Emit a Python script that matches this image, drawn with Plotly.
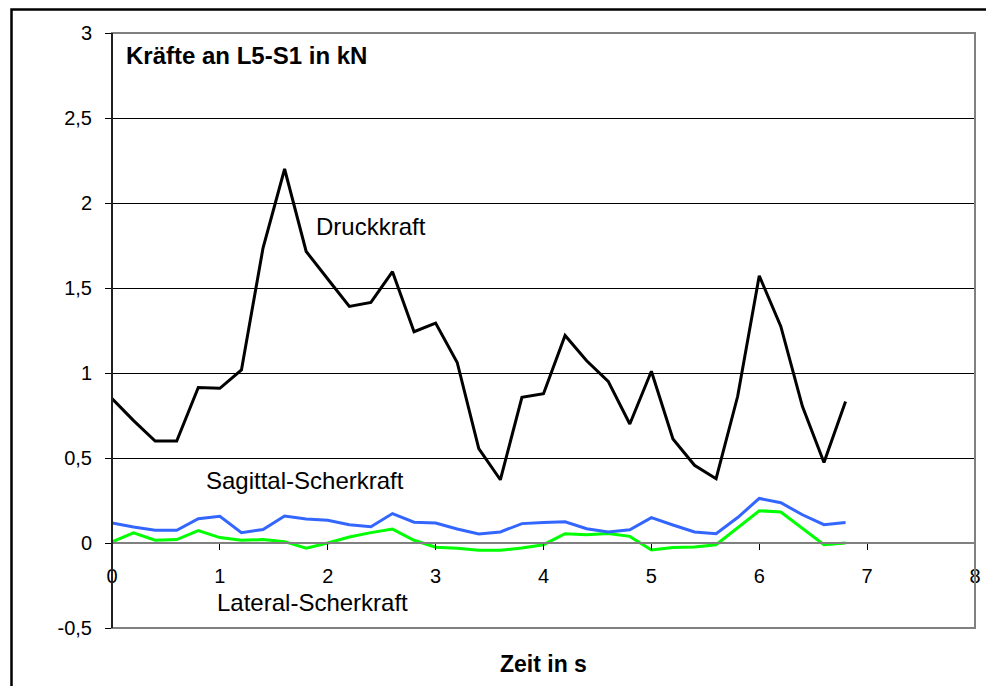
import plotly.graph_objects as go

zeit = [round(i * 0.2, 1) for i in range(35)]

druckkraft = [0.85, 0.72, 0.60, 0.60, 0.915, 0.91, 1.018, 1.735, 2.20, 1.715,
              1.553, 1.392, 1.415, 1.596, 1.243, 1.294, 1.062, 0.555, 0.372, 0.857,
              0.878, 1.221, 1.072, 0.951, 0.70, 1.01, 0.612, 0.457, 0.378, 0.863,
              1.572, 1.274, 0.804, 0.474, 0.833]

sagittal = [0.118, 0.094, 0.075, 0.075, 0.143, 0.157, 0.061, 0.079, 0.159, 0.141,
            0.134, 0.108, 0.096, 0.173, 0.122, 0.118, 0.082, 0.053, 0.065, 0.114,
            0.12, 0.125, 0.084, 0.065, 0.078, 0.149, 0.106, 0.065, 0.055, 0.15,
            0.262, 0.237, 0.166, 0.108, 0.12]

lateral = [0.006, 0.06, 0.016, 0.02, 0.073, 0.032, 0.016, 0.02, 0.008, -0.031,
           0.0, 0.035, 0.061, 0.082, 0.016, -0.025, -0.031, -0.043, -0.043, -0.029,
           -0.01, 0.055, 0.049, 0.056, 0.039, -0.041, -0.026, -0.024, -0.01, 0.092,
           0.19, 0.182, 0.086, -0.01, 0.0]

y_ticks = [-0.5, 0, 0.5, 1, 1.5, 2, 2.5, 3]
y_tick_labels = ["-0,5", "0", "0,5", "1", "1,5", "2", "2,5", "3"]
x_ticks = [0, 1, 2, 3, 4, 5, 6, 7, 8]

FONT = "Liberation Sans, Arial, sans-serif"

fig = go.Figure()
fig.add_trace(go.Scatter(x=zeit, y=lateral, mode="lines", name="Lateral-Scherkraft",
                         line=dict(color="#00FF00", width=3)))
fig.add_trace(go.Scatter(x=zeit, y=sagittal, mode="lines", name="Sagittal-Scherkraft",
                         line=dict(color="#3366FF", width=3)))
fig.add_trace(go.Scatter(x=zeit, y=druckkraft, mode="lines", name="Druckkraft",
                         line=dict(color="#000000", width=3)))

# page body has an 8px margin; figure is sized so the plot lands where the reference has it
OFF = 8
L, R, T, B = 104, 19, 25, 58
W, H = 986, 678
pw, ph = W - L - R, H - T - B

def px_x(px):
    return (px - OFF - L) / pw

def px_y(py):
    return 1 - (py - OFF - T) / ph

fig.update_layout(
    width=W, height=H,
    margin=dict(l=L, r=R, t=T, b=B),
    paper_bgcolor="white", plot_bgcolor="white",
    showlegend=False,
    font=dict(family=FONT, size=20, color="black"),
    xaxis=dict(range=[0, 8], tickvals=x_ticks, ticktext=[str(v) for v in x_ticks],
               showgrid=False, zeroline=False, showline=True, linecolor="#808080",
               linewidth=2, anchor="free", position=0.5 / 3.5,
               ticks="outside", ticklen=6, tickcolor="black", tickwidth=1,
               ticklabelstandoff=9,
               tickfont=dict(family=FONT, size=20, color="black")),
    yaxis=dict(range=[-0.5, 3], tickvals=y_ticks, ticktext=y_tick_labels,
               showgrid=True, gridcolor="black", gridwidth=1,
               zeroline=False, showline=True, linecolor="black", linewidth=1,
               ticks="outside", ticklen=6, tickcolor="black", tickwidth=1,
               ticklabelstandoff=9,
               tickfont=dict(family=FONT, size=20, color="black")),
)

shapes = [
    dict(type="rect", xref="paper", yref="paper", x0=0, x1=1, y0=0, y1=1,
         line=dict(color="#808080", width=2), layer="above"),
    dict(type="line", xref="paper", yref="paper", x0=0, x1=0, y0=0, y1=1,
         line=dict(color="black", width=1.5), layer="above"),
    dict(type="rect", xref="paper", yref="paper",
         x0=px_x(11.5), x1=px_x(1010), y0=px_y(700), y1=px_y(9.5),
         line=dict(color="black", width=2.5), layer="above"),
]
fig.update_layout(shapes=shapes)

annotations = [
    dict(text="<b>Kräfte an L5-S1 in kN</b>", x=0.107, y=2.87, xref="x", yref="y",
         xanchor="left", yanchor="middle", showarrow=False,
         font=dict(family=FONT, size=24, color="black")),
    dict(text="Druckkraft", x=2.40, y=1.86, xref="x", yref="y",
         xanchor="center", yanchor="middle", showarrow=False,
         font=dict(family=FONT, size=24, color="black")),
    dict(text="Sagittal-Scherkraft", x=1.79, y=0.366, xref="x", yref="y",
         xanchor="center", yanchor="middle", showarrow=False,
         font=dict(family=FONT, size=24, color="black")),
    dict(text="Lateral-Scherkraft", x=1.86, y=-0.351, xref="x", yref="y",
         xanchor="center", yanchor="middle", showarrow=False,
         font=dict(family=FONT, size=24, color="black")),
    dict(text="<b>Zeit in s</b>", x=px_x(543), y=px_y(664), xref="paper", yref="paper",
         xanchor="center", yanchor="middle", showarrow=False,
         font=dict(family=FONT, size=23, color="black")),
]
fig.update_layout(annotations=annotations)

fig.write_html("out.html")
